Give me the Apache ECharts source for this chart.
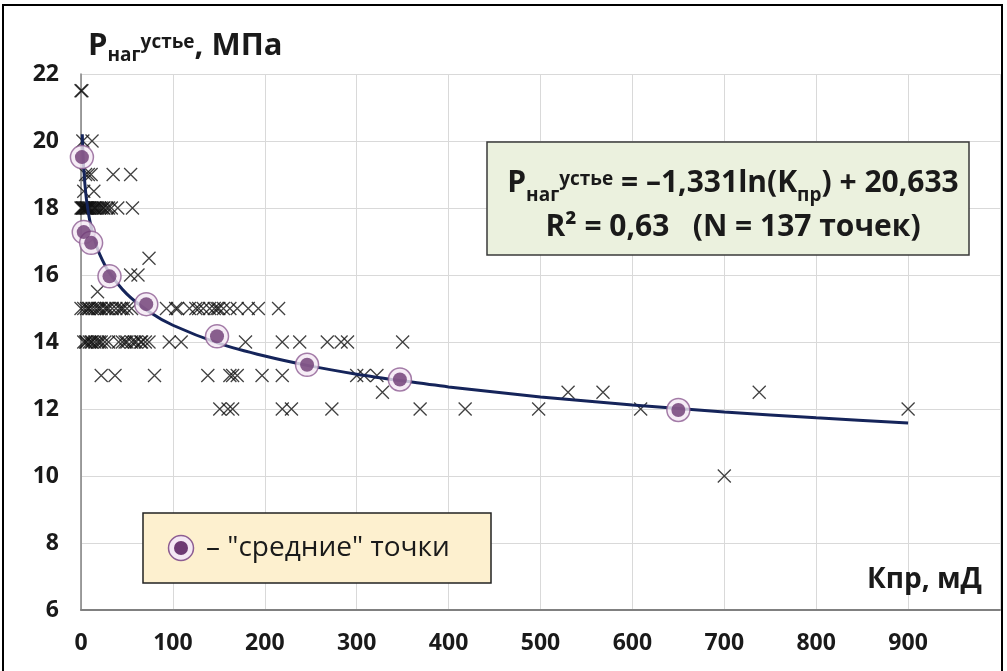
<!DOCTYPE html>
<html><head><meta charset="utf-8">
<script src="https://cdn.jsdelivr.net/npm/echarts@6/dist/echarts.min.js"></script>
<style>html,body{margin:0;padding:0;background:#fff}#c{width:1007px;height:671px}</style>
</head><body><div id="c"></div>
<script>
// Scatter points (Кпр, мД ; Рнаг устье, МПа)
const crossK = [0,1, 2,12, 5,8,11,35,54, 3,14,
  0,1,2,3,4,5,6,7,8,10,12,14,16,18,20,22,25,28,30,33,40,56,2,6,9,15,24,
  74, 54,62, 18,
  0,3,6,9,12,15,18,22,26,30,34,38,42,46,50,55,93,103,105,118,125,133,140,145,150,155,162,170,182,193,215,8,20,28,44,128,148,
  3,6,9,12,15,18,22,26,30,41,45,50,55,60,65,70,74,96,109,179,219,238,268,283,290,350,5,11,20,48,58,66,
  22,37,80,138,162,165,170,197,219,300,308,322,
  328,530,568,738,
  151,160,165,219,229,273,369,418,498,609,900,
  700];
const crossP = [21.5,21.5, 20,20, 19,19,19,19,19, 18.5,18.5,
  18,18,18,18,18,18,18,18,18,18,18,18,18,18,18,18,18,18,18,18,18,18,18,18,18,18,18,
  16.5, 16,16, 15.5,
  15,15,15,15,15,15,15,15,15,15,15,15,15,15,15,15,15,15,15,15,15,15,15,15,15,15,15,15,15,15,15,15,15,15,15,15,15,
  14,14,14,14,14,14,14,14,14,14,14,14,14,14,14,14,14,14,14,14,14,14,14,14,14,14,14,14,14,14,14,14,
  13,13,13,13,13,13,13,13,13,13,13,13,
  12.5,12.5,12.5,12.5,
  12,12,12,12,12,12,12,12,12,12,12,
  10];
// "средние" (average) points
const avgK = [1, 3, 11, 31, 71, 148, 246, 347, 650];
const avgP = [19.52, 17.28, 16.96, 15.96, 15.13, 14.17, 13.32, 12.88, 11.97];
// trend line points
const trendK = [1.4, 2, 3, 5, 7, 10, 15, 20, 30, 50, 75, 100, 150, 200, 250, 300, 350, 400, 500, 600, 700, 800, 900];
const trendP = [20.2, 19.71, 19.17, 18.49, 18.04, 17.57, 17.03, 16.64, 16.11, 15.43, 14.89, 14.50, 13.96, 13.58, 13.28, 13.04, 12.84, 12.66, 12.36, 12.12, 11.91, 11.74, 11.58];
const xTickMax = 900;

const FONT = '"Open Sans", "Noto Sans", sans-serif';
const pairs = (a, b) => a.map((v, i) => [v, b[i]]);

const chart = echarts.init(document.getElementById('c'), null, {renderer: 'canvas'});
chart.setOption({
  backgroundColor: '#ffffff',
  animation: false,
  grid: {left: 81, top: 74, right: 7, bottom: 61, containLabel: false},
  xAxis: {
    type: 'value', min: 0, max: 1000, interval: 100,
    axisLine: {show: true, onZero: false, lineStyle: {color: '#808080', width: 2}},
    axisTick: {show: false},
    splitLine: {show: true, lineStyle: {color: '#d9d9d9', width: 1}},
    axisLabel: {margin: 22, fontFamily: FONT, fontWeight: 'bold', fontSize: 23, color: '#1a1a1a',
      formatter: v => v > xTickMax ? '' : String(v)}
  },
  yAxis: {
    type: 'value', min: 6, max: 22, interval: 2,
    axisLine: {show: true, onZero: false, lineStyle: {color: '#808080', width: 1.5}},
    axisTick: {show: false},
    splitLine: {show: true, lineStyle: {color: '#d9d9d9', width: 1}},
    axisLabel: {margin: 22, fontFamily: FONT, fontWeight: 'bold', fontSize: 23, color: '#1a1a1a'}
  },
  series: [
    {type: 'scatter', data: pairs(crossK, crossP), symbol: 'path://M0,0L10,10M10,0L0,10', symbolSize: 13,
      itemStyle: {color: 'rgba(0,0,0,0)', borderColor: '#111', borderWidth: 1.3}, z: 2},
    {type: 'line', data: pairs(trendK, trendP), smooth: 0.25, showSymbol: false,
      lineStyle: {color: '#15245a', width: 3}, z: 3},
    {type: 'scatter', data: pairs(avgK, avgP), symbol: 'circle', symbolSize: 23,
      itemStyle: {color: '#f4e8f4', borderColor: '#8d5d92', borderWidth: 1.5}, z: 4},
    {type: 'scatter', data: pairs(avgK, avgP), symbol: 'circle', symbolSize: 14,
      itemStyle: {color: '#6d3a73'}, z: 5}
  ],
  graphic: [
    {type: 'rect', shape: {x: 3, y: 5, width: 999, height: 680}, style: {fill: 'none', stroke: '#000', lineWidth: 2}, z: 100, silent: true},
    {type: 'text', left: 88, top: 27, style: {
      text: '{p|P}{sub|наг}{sup|устье}{p|, МПа}',
      rich: {
        p: {fontFamily: FONT, fontWeight: 'bold', fontSize: 31, lineHeight: 38, fill: '#1a1a1a'},
        sub: {fontFamily: FONT, fontWeight: 'bold', fontSize: 19, lineHeight: 23, verticalAlign: 'bottom', fill: '#1a1a1a'},
        sup: {fontFamily: FONT, fontWeight: 'bold', fontSize: 19, lineHeight: 23, padding: [6, 0, 0, 0], verticalAlign: 'top', fill: '#1a1a1a'}
      }}, z: 50},
    {type: 'rect', shape: {x: 487, y: 142, width: 482, height: 113}, style: {fill: '#ebf1de', stroke: '#3a3a3a', lineWidth: 1.5}, z: 50},
    {type: 'text', x: 733, y: 205, style: {
      text: '{p|P}{sub|наг}{sup|устье}{p| = –1,331ln(K}{sub|пр}{p|) + 20,633}\n{p|R² = 0,63   (N = 137 точек)}',
      align: 'center', verticalAlign: 'middle',
      rich: {
        p: {fontFamily: FONT, fontWeight: 'bold', fontSize: 30, lineHeight: 44, fill: '#1a1a1a'},
        sub: {fontFamily: FONT, fontWeight: 'bold', fontSize: 19, lineHeight: 22, verticalAlign: 'bottom', fill: '#1a1a1a'},
        sup: {fontFamily: FONT, fontWeight: 'bold', fontSize: 19, lineHeight: 28, padding: [9, 0, 0, 0], verticalAlign: 'top', fill: '#1a1a1a'}
      }}, z: 51},
    {type: 'rect', shape: {x: 143, y: 513, width: 348, height: 70}, style: {fill: '#fdf0cf', stroke: '#222', lineWidth: 1.5}, z: 50},
    {type: 'circle', shape: {cx: 181, cy: 548, r: 12.5}, style: {fill: '#f4e8f4', stroke: '#8d5d92', lineWidth: 1.5}, z: 51},
    {type: 'circle', shape: {cx: 181, cy: 548, r: 7}, style: {fill: '#6d3a73'}, z: 52},
    {type: 'text', x: 206, y: 548, style: {text: '– "средние" точки', fontFamily: FONT, fontSize: 28, fill: '#1a1a1a', verticalAlign: 'middle'}, z: 52},
    {type: 'text', x: 982, y: 580, style: {text: 'Кпр, мД', fontFamily: FONT, fontWeight: 'bold', fontSize: 28, fill: '#1a1a1a', align: 'right', verticalAlign: 'middle'}, z: 52}
  ]
});
</script></body></html>
